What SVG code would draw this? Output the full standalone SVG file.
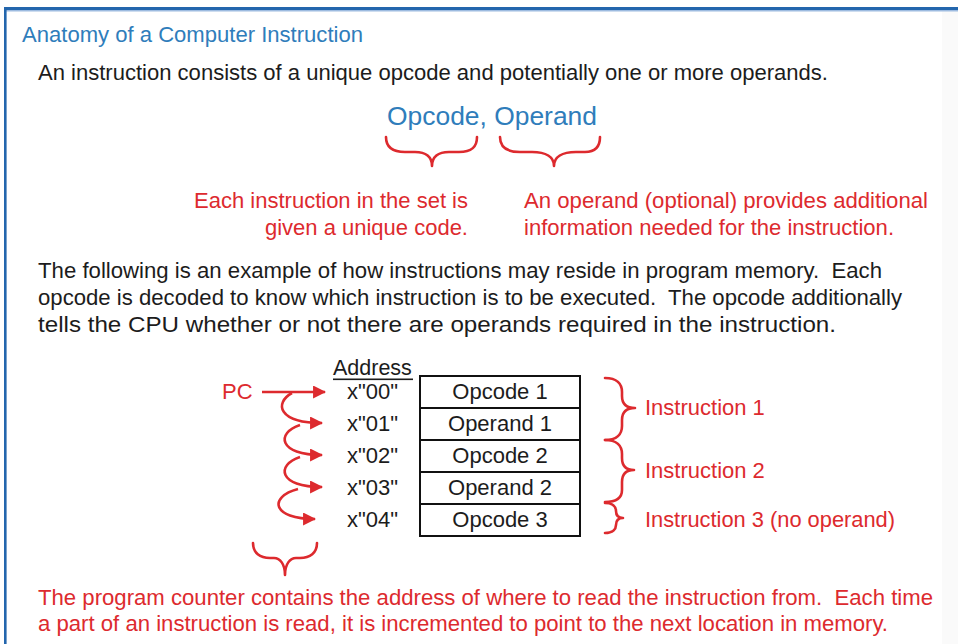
<svg xmlns="http://www.w3.org/2000/svg" width="958" height="644" viewBox="0 0 958 644">
<defs>
<style>
text{font-family:"Liberation Sans",Arial,sans-serif;font-size:22px}
.k{fill:#1c1c1c}
.r{fill:#dd2a2e}
.b{fill:#2f7dbb}
.brace{fill:none;stroke:#dd2a2e;stroke-width:2.6;stroke-linecap:round;stroke-linejoin:round}
.arr{fill:none;stroke:#dd2a2e;stroke-width:2.6}
.cell{fill:#ffffff;stroke:#111;stroke-width:2}
.cellt{fill:#1c1c1c;text-anchor:middle}
</style>
<marker id="ah" viewBox="0 0 12 12" refX="11" refY="6" markerWidth="13" markerHeight="13" markerUnits="userSpaceOnUse" orient="auto">
<path d="M0,0 L12,6 L0,12 z" fill="#dd2a2e"/>
</marker>
</defs>
<rect x="0" y="0" width="958" height="644" fill="#ffffff"/>
<rect x="942" y="11" width="16" height="633" fill="#fafafa"/>
<g id="frame">
<rect x="4" y="7" width="954" height="3" fill="#2366ad"/>
<rect x="6" y="10" width="952" height="1.5" fill="#9dbbe0"/>
<rect x="4" y="7" width="2.6" height="637" fill="#2366ad"/>
</g>
<g id="title"><text class="b" x="22" y="42" style="font-size:21.8px" textLength="341" lengthAdjust="spacingAndGlyphs">Anatomy of a Computer Instruction</text></g>
<g id="intro"><text class="k" x="38" y="80" textLength="790" lengthAdjust="spacingAndGlyphs">An instruction consists of a unique opcode and potentially one or more operands.</text></g>
<g id="format"><text class="b" x="387" y="125" style="font-size:26.4px" textLength="210" lengthAdjust="spacingAndGlyphs">Opcode, Operand</text></g>
<g id="brace-opcode"><path class="brace" d="M386 137 C386 147,392 152,405 152 L415 152 C426 152,432 157,432 166 C432 157,438 152,449 152 L459 152 C472 152,477 147,477 137"/></g>
<g id="brace-operand"><path class="brace" d="M500 137 C500 147,507 152,520 152 L532 152 C546 152,554 157,554 166 C554 157,562 152,576 152 L585 152 C595 152,600 147,600 137"/></g>
<g id="note-opcode">
<text class="r" x="468" y="208" text-anchor="end">Each instruction in the set is</text>
<text class="r" x="468" y="235" text-anchor="end">given a unique code.</text>
</g>
<g id="note-operand">
<text class="r" x="524" y="208" textLength="404" lengthAdjust="spacingAndGlyphs">An operand (optional) provides additional</text>
<text class="r" x="524" y="235" textLength="370" lengthAdjust="spacingAndGlyphs">information needed for the instruction.</text>
</g>
<g id="para">
<text class="k" x="38" y="278" textLength="844" lengthAdjust="spacingAndGlyphs">The following is an example of how instructions may reside in program memory.&#160; Each</text>
<text class="k" x="38" y="305" textLength="864" lengthAdjust="spacingAndGlyphs">opcode is decoded to know which instruction is to be executed.&#160; The opcode additionally</text>
<text class="k" x="38" y="332" textLength="798" lengthAdjust="spacingAndGlyphs">tells the CPU whether or not there are operands required in the instruction.</text>
</g>
<g id="address-header">
<text class="k" x="333" y="375" style="font-size:21.5px">Address</text>
<rect x="333" y="378.5" width="80" height="1.6" fill="#1c1c1c"/>
</g>
<g id="addresses">
<text class="k" x="347" y="399">x"00"</text>
<text class="k" x="347" y="431">x"01"</text>
<text class="k" x="347" y="463">x"02"</text>
<text class="k" x="347" y="495">x"03"</text>
<text class="k" x="347" y="527">x"04"</text>
</g>
<g id="mem-opcode1"><rect class="cell" x="420" y="376" width="160" height="32"/><text class="cellt" x="500" y="399">Opcode 1</text></g>
<g id="mem-operand1"><rect class="cell" x="420" y="408" width="160" height="32"/><text class="cellt" x="500" y="431">Operand 1</text></g>
<g id="mem-opcode2"><rect class="cell" x="420" y="440" width="160" height="32"/><text class="cellt" x="500" y="463">Opcode 2</text></g>
<g id="mem-operand2"><rect class="cell" x="420" y="472" width="160" height="32"/><text class="cellt" x="500" y="495">Operand 2</text></g>
<g id="mem-opcode3"><rect class="cell" x="420" y="504" width="160" height="32"/><text class="cellt" x="500" y="527">Opcode 3</text></g>
<g id="pc"><text class="r" x="222" y="399">PC</text></g>
<g id="connectors">
<path class="arr" d="M262 392 L325 392" marker-end="url(#ah)"/>
<path class="arr" d="M292 393 C274 403,278 423,322 423" marker-end="url(#ah)"/>
<path class="arr" d="M300 425 C276 433,278 455,322 455" marker-end="url(#ah)"/>
<path class="arr" d="M300 457 C276 465,278 487,322 487" marker-end="url(#ah)"/>
<path class="arr" d="M298 489 C268 497,272 519,315 519" marker-end="url(#ah)"/>
</g>
<g id="brace-instr1"><path class="brace" d="M605 378 C617 378,622 384,622 392 L622 396 C622 404,626 408,635 408 C626 408,622 412,622 420 L622 426 C622 434,617 440,605 440"/></g>
<g id="brace-instr2"><path class="brace" d="M605 440 C617 440,622 446,622 454 L622 458 C622 466,626 470,634 470 C626 470,622 474,622 482 L622 490 C622 497,617 502,605 502"/></g>
<g id="brace-instr3"><path class="brace" d="M605 503 C613 503,616 507,616 511 C616 515,618 518,623 518 C618 518,616 521,616 525 C616 529,613 533,605 533"/></g>
<g id="instr-labels">
<text class="r" x="645" y="415">Instruction 1</text>
<text class="r" x="645" y="478">Instruction 2</text>
<text class="r" x="645" y="527" textLength="250" lengthAdjust="spacingAndGlyphs">Instruction 3 (no operand)</text>
</g>
<g id="brace-pc"><path class="brace" d="M253 543 C253 553,260 558,270 558 L274 558 C280 558,285 564,285 575 C285 564,290 558,296 558 L300 558 C310 558,317 553,317 543"/></g>
<g id="pc-note">
<text class="r" x="38" y="605" textLength="895" lengthAdjust="spacingAndGlyphs">The program counter contains the address of where to read the instruction from.&#160; Each time</text>
<text class="r" x="38" y="631" textLength="850" lengthAdjust="spacingAndGlyphs">a part of an instruction is read, it is incremented to point to the next location in memory.</text>
</g>
</svg>
